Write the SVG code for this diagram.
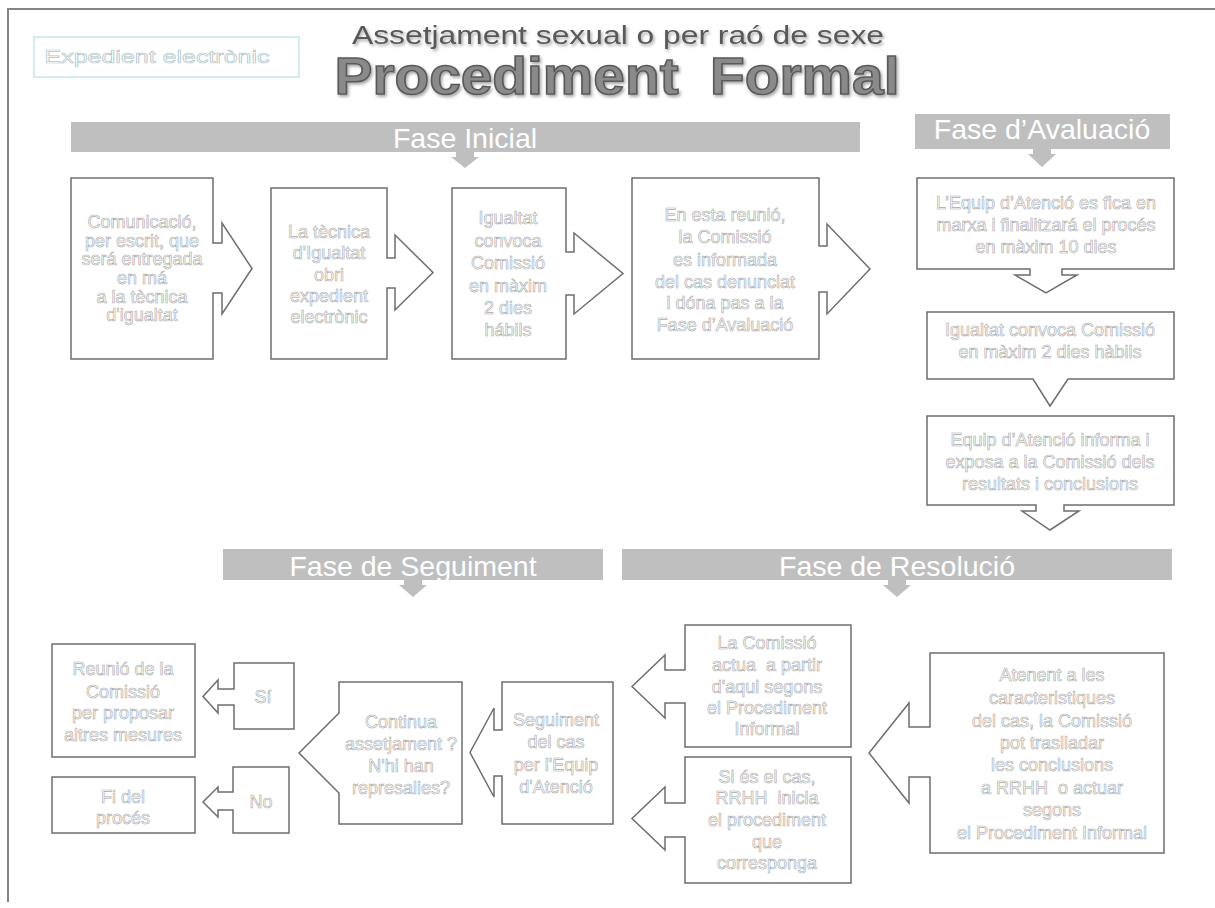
<svg xmlns="http://www.w3.org/2000/svg" width="1215" height="908" viewBox="0 0 1215 908">
<defs>
<filter id="sh" x="-5%" y="-20%" width="110%" height="150%">
<feDropShadow dx="1.5" dy="2" stdDeviation="1.5" flood-color="#000" flood-opacity="0.35"/>
</filter>
</defs>
<style>
text{white-space:pre}
.node{fill:#fff;stroke:#6e6e6e;stroke-width:1.5;stroke-linejoin:miter}
.t{font-family:"Liberation Sans",Arial,sans-serif;font-size:18px;fill:#fff;stroke:#a8a8a8;stroke-width:0.6;text-anchor:middle}
.bar{fill:#bfbfbf}
.ph{font-family:"Liberation Sans",Arial,sans-serif;font-size:28.5px;fill:#fff;text-anchor:middle}
</style>
<rect width="1215" height="908" fill="#fff"/>
<path d="M8,902 V9 H1215" fill="none" stroke="#858585" stroke-width="2"/>

<g id="expedient">
<rect x="34" y="37" width="265" height="40" fill="#fff" stroke="#b5dfe6" stroke-width="1.2"/>
<text x="157" y="63" font-family="Liberation Sans,Arial,sans-serif" font-size="19" fill="#fff" stroke="#b0c8cc" stroke-width="0.7" text-anchor="middle" textLength="225" lengthAdjust="spacingAndGlyphs">Expedient electrònic</text>
</g>

<g id="title">
<text x="618" y="44" font-family="Liberation Sans,Arial,sans-serif" font-size="25" fill="#595959" text-anchor="middle" textLength="532" lengthAdjust="spacingAndGlyphs" filter="url(#sh)">Assetjament sexual o per raó de sexe</text>
<text x="617" y="94" font-family="Liberation Sans,Arial,sans-serif" font-size="51" font-weight="bold" fill="#8a8a8a" stroke="#5a5a5a" stroke-width="1.5" text-anchor="middle" textLength="565" lengthAdjust="spacingAndGlyphs" filter="url(#sh)">Procediment  Formal</text>
</g>

<g id="fase-inicial">
<rect class="bar" x="71" y="122" width="789" height="30"/>
<text class="ph" x="465" y="148">Fase Inicial</text>
<path class="bar" d="M456,152 H474 V157 H479 L465,168 L451,157 H456 Z"/>
</g>
<g id="fase-avaluacio">
<rect class="bar" x="915" y="114" width="255" height="35"/>
<text class="ph" x="1042" y="139">Fase d’Avaluació</text>
<path class="bar" d="M1033,149 H1051 V154 H1056 L1042,167 L1028,154 H1033 Z"/>
</g>
<g id="fase-seguiment">
<rect class="bar" x="223" y="549" width="380" height="31"/>
<text class="ph" x="413" y="576">Fase de Seguiment</text>
<path class="bar" d="M404,580 H422 V585 H427 L413,597 L399,585 H404 Z"/>
</g>
<g id="fase-resolucio">
<rect class="bar" x="622" y="549" width="550" height="31"/>
<text class="ph" x="897" y="576">Fase de Resolució</text>
<path class="bar" d="M888,580 H906 V585 H911 L897,597 L883,585 H888 Z"/>
</g>

<g id="n1">
<path class="node" d="M71,178 H213 V243 H222 V223 L252,268.5 L222,314 V293 H213 V359 H71 Z"/>
<text class="t"><tspan x="142" y="228">Comunicació,</tspan><tspan x="142" y="246.5">per escrit, que</tspan><tspan x="142" y="265">será entregada</tspan><tspan x="142" y="284">en má</tspan><tspan x="142" y="302.5">a la tècnica</tspan><tspan x="142" y="321">d'igualtat</tspan></text>
</g>
<g id="n2">
<path class="node" d="M271,188 H387 V258 H395 V235 L433,272.5 L395,310 V288 H387 V359 H271 Z"/>
<text class="t"><tspan x="329" y="238">La tècnica</tspan><tspan x="329" y="259">d'Igualtat</tspan><tspan x="329" y="281">obri</tspan><tspan x="329" y="302">expedient</tspan><tspan x="329" y="323">electrònic</tspan></text>
</g>
<g id="n3">
<path class="node" d="M452,188 H566 V252 H574 V233 L623,273.5 L574,314 V295 H566 V359 H452 Z"/>
<text class="t"><tspan x="508" y="224">Igualtat</tspan><tspan x="508" y="247">convoca</tspan><tspan x="508" y="269">Comissió</tspan><tspan x="508" y="292">en màxim</tspan><tspan x="508" y="314">2 dies</tspan><tspan x="508" y="336">hábils</tspan></text>
</g>
<g id="n4">
<path class="node" d="M632,178 H819 V246 H827 V224 L870,269 L827,314 V292 H819 V359 H632 Z"/>
<text class="t"><tspan x="725" y="221">En esta reunió,</tspan><tspan x="725" y="243">la Comissió</tspan><tspan x="725" y="266">es informada</tspan><tspan x="725" y="288">del cas denunciat</tspan><tspan x="725" y="309">i dóna pas a la</tspan><tspan x="725" y="331">Fase d’Avaluació</tspan></text>
</g>

<g id="a1">
<path class="node" d="M917,178 H1174 V269 H1062 V275 H1077 L1046,293 L1015,275 H1030 V269 H917 Z"/>
<text class="t"><tspan x="1046" y="209">L’Equip d’Atenció es fica en</tspan><tspan x="1046" y="231">marxa i finalitzará el procés</tspan><tspan x="1046" y="253">en màxim 10 dies</tspan></text>
</g>
<g id="a2">
<path class="node" d="M927,312 H1174 V379 H1068 L1050,406 L1033,379 H927 Z"/>
<text class="t"><tspan x="1050" y="336">Igualtat convoca Comissió</tspan><tspan x="1050" y="358">en màxim 2 dies hàbils</tspan></text>
</g>
<g id="a3">
<path class="node" d="M927,416 H1174 V505 H1064 V511 H1079 L1050,530 L1022,511 H1036 V505 H927 Z"/>
<text class="t"><tspan x="1050" y="446">Equip d’Atenció informa i</tspan><tspan x="1050" y="468">exposa a la Comissió dels</tspan><tspan x="1050" y="490">resultats i conclusions</tspan></text>
</g>

<g id="r1">
<path class="node" d="M930,653 H1164 V853 H930 V777 H909 V803 L869,753 L909,703 V727 H930 Z"/>
<text class="t"><tspan x="1052" y="681">Atenent a les</tspan><tspan x="1052" y="704">caracteristiques</tspan><tspan x="1052" y="727">del cas, la Comissió</tspan><tspan x="1052" y="749">pot traslladar</tspan><tspan x="1052" y="771">les conclusions</tspan><tspan x="1052" y="794">a RRHH  o actuar</tspan><tspan x="1052" y="816">segons</tspan><tspan x="1052" y="839">el Procediment Informal</tspan></text>
</g>
<g id="r2">
<path class="node" d="M685,625 H851 V747 H685 V703 H665 V718 L632,686.5 L665,655 V670 H685 Z"/>
<text class="t"><tspan x="767" y="649">La Comissió</tspan><tspan x="767" y="671">actua  a partir</tspan><tspan x="767" y="693">d'aqui segons</tspan><tspan x="767" y="714">el Procediment</tspan><tspan x="767" y="735">Informal</tspan></text>
</g>
<g id="r3">
<path class="node" d="M685,757 H851 V883 H685 V837 H665 V850 L632,818.5 L665,787 V803 H685 Z"/>
<text class="t"><tspan x="767" y="783">Si és el cas,</tspan><tspan x="767" y="804">RRHH  inicia</tspan><tspan x="767" y="826">el procediment</tspan><tspan x="767" y="848">que</tspan><tspan x="767" y="869">corresponga</tspan></text>
</g>

<g id="s1">
<path class="node" d="M502,682 H613 V824 H502 V776 H494 V797 L470,752.5 L494,708 V730 H502 Z"/>
<text class="t"><tspan x="556" y="726">Seguiment</tspan><tspan x="556" y="748">del cas</tspan><tspan x="556" y="771">per l'Equip</tspan><tspan x="556" y="793">d'Atenció</tspan></text>
</g>
<g id="s2">
<path class="node" d="M339,682 H462 V824 H339 V793 L299,753 L339,713 Z"/>
<text class="t"><tspan x="401" y="728">Continua</tspan><tspan x="401" y="750">assetjament ?</tspan><tspan x="401" y="772">N'hi han</tspan><tspan x="401" y="794">represalies?</tspan></text>
</g>
<g id="si">
<path class="node" d="M234,663 H294 V729 H234 V705 H218 V713 L203,696.5 L218,680 V689 H234 Z"/>
<text class="t" x="263" y="703">Sí</text>
</g>
<g id="no">
<path class="node" d="M233,767 H289 V833 H233 V810 H218 V817 L203,802 L218,787 V792 H233 Z"/>
<text class="t" x="261" y="808">No</text>
</g>
<g id="reunio">
<rect class="node" x="52" y="644" width="143" height="113"/>
<text class="t"><tspan x="123" y="675">Reunió de la</tspan><tspan x="123" y="698">Comissió</tspan><tspan x="123" y="719">per proposar</tspan><tspan x="123" y="741">altres mesures</tspan></text>
</g>
<g id="fi">
<rect class="node" x="52" y="777" width="143" height="56"/>
<text class="t"><tspan x="123" y="803">Fi del</tspan><tspan x="123" y="824">procés</tspan></text>
</g>
<g id="connectors"></g>
</svg>
